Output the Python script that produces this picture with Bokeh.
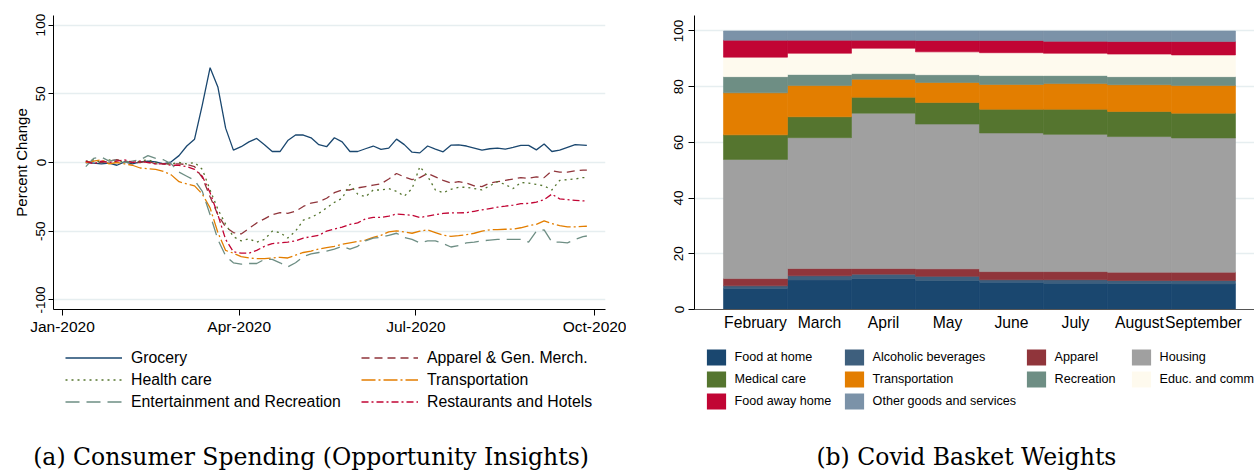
import pandas as pd
from bokeh.plotting import figure
from bokeh.models import (Range1d, FixedTicker, DatetimeTickFormatter, Legend, LegendItem,
                          Label, ColumnDataSource)
from bokeh.layouts import row, column
from bokeh.embed import file_html
from bokeh.resources import INLINE

# ---------------- data: consumer spending (percent change) ----------------
dates = pd.date_range("2020-01-13", periods=65, freq="4D").append(pd.DatetimeIndex(["2020-09-27"]))

grocery = [0, -0.5, -1, -0.5, -2, 0.5, -1, 0.5, 1, 0.5,
           -1, 0.5, 5, 12, 17, 42, 69, 55, 25, 9,
           11.5, 15, 17.5, 13, 8, 8, 16, 20, 20, 18,
           13, 11.5, 18, 15, 8, 8, 10, 12, 9.5, 10.5,
           17, 13, 7.5, 7, 12, 9.7, 7.8, 12.6, 12.9, 12,
           10.5, 9, 10, 10.5, 9.7, 11, 12.5, 12.5, 9.2, 13.4,
           8, 9, 11, 13, 12.6, 12.4]
health = [1, 2, 0, 2, 0, 1, 0, 1, 2, 0,
          -1, -1, 0, -1, 0, -5, -20, -34, -45, -54,
          -57, -55.5, -58, -56, -50, -51, -55, -50, -42, -40,
          -37, -33, -29, -26, -16, -23, -25, -20, -20, -19,
          -21, -24.5, -19, -3, -10, -20, -22, -19.5, -18, -18,
          -19, -20, -17, -14, -16, -19, -14.5, -15, -16, -17,
          -20, -13, -12.5, -12, -11, -11]
apparel = [0, 1, 0, 1, 2, 1, 0, 0, 1, -1,
           -1, -1, -1, -1.5, -3, -11, -25, -38, -47, -51,
           -52, -48, -44, -41, -38, -36.5, -37, -35.5, -32, -29.5,
           -28.5, -26, -22, -20, -20, -18.5, -17.5, -16.5, -15.5, -12,
           -8, -10.5, -12.5, -11, -8, -10.5, -13, -15, -14, -15,
           -17, -17.5, -15, -14, -13, -12, -11, -11.5, -10.5, -11,
           -6, -7, -7, -6, -5.5, -5.5]
transport = [0, 1, 2, -1, 0, -1, -2, -4, -4.5, -5,
             -6.5, -9, -14, -15.5, -17, -23, -33, -51, -64, -66,
             -68.5, -69.5, -70, -70, -69.5, -69, -69.5, -67.5, -65.5, -64.5,
             -63, -62, -61, -59.5, -58.5, -57.5, -56.5, -54.5, -53, -50.5,
             -49.8, -50.5, -51.5, -50, -49, -51, -53, -53.7, -53.3, -52.5,
             -51.5, -50, -49, -48.8, -48.6, -48.5, -47.5, -46, -45, -42.5,
             -44.5, -46, -46.8, -46.8, -46.5, -46.4]
entertainment = [-3, 3, 4, 1, 2, 0, 1, 2, 5, 3,
                 2, -1, -7, -10, -13, -21, -38, -56, -68, -73,
                 -74, -73.5, -73.5, -70.5, -70.5, -73, -76, -73, -68.5, -66.5,
                 -65.5, -64.5, -63, -61, -63, -61, -57, -55, -54.5, -53,
                 -51.5, -54.5, -56, -58.5, -57, -57, -59, -61.5, -60.5, -58.5,
                 -58, -57, -56.5, -56, -56, -56, -56, -58, -50, -49,
                 -58, -58, -58.5, -56, -54, -53.5]
restaurants = [1, -1, 1, 0, 1, 2, 0, 1, 0, -1,
               -1, -2, -2, -3, -5, -10, -22, -38, -56, -65,
               -66, -66, -64, -61, -59, -58.5, -58, -57, -55, -54,
               -53, -50, -48.5, -47, -45, -44, -41, -40, -40, -39,
               -37.5, -38, -38.4, -40, -39, -38, -37, -36.7, -36.7, -36.5,
               -35.5, -34.5, -33.5, -32.5, -31.8, -31, -30, -29.8, -28.8, -27,
               -23, -26.5, -27, -27.5, -28, -28]

x_tick_dates = ["2020-01-01", "2020-04-01", "2020-07-01", "2020-10-01"]
x_tick_labels = ["Jan-2020", "Apr-2020", "Jul-2020", "Oct-2020"]
y_ticks_a = [-100, -50, 0, 50, 100]

# ---------------- data: covid basket weights ----------------
months = ["February", "March", "April", "May", "June", "July", "August", "September"]
food_home = [7.5, 10.6, 11.1, 10.4, 9.8, 9.4, 9.3, 9.2]
alcohol = [1.0, 1.5, 1.6, 1.5, 0.9, 1.3, 1.1, 1.2]
apparel_w = [2.6, 2.6, 2.0, 2.7, 2.9, 2.9, 3.0, 3.0]
housing = [42.8, 47.0, 55.8, 52.0, 49.8, 49.3, 48.7, 48.2]
medical = [8.8, 7.5, 5.7, 7.7, 8.5, 9.0, 9.0, 8.9]
transport_w = [15.1, 11.2, 6.5, 7.2, 8.9, 9.2, 9.6, 9.9]
recreation = [5.8, 4.0, 2.0, 2.8, 3.2, 2.9, 2.9, 3.2]
educ = [7.0, 7.6, 9.1, 8.2, 8.2, 8.0, 8.1, 7.8]
food_away = [6.1, 4.7, 2.9, 4.1, 4.4, 4.3, 4.5, 4.8]
other = [3.3, 3.3, 3.3, 3.4, 3.4, 3.7, 3.8, 3.8]
basket_names = ["Food at home", "Alcoholic beverages", "Apparel", "Housing", "Medical care",
                "Transportation", "Recreation", "Educ. and communication", "Food away home",
                "Other goods and services"]
y_ticks_b = [0, 20, 40, 60, 80, 100]

SANS = "Liberation Sans"
SERIF = "DejaVu Serif"
GRID = "#e6eef0"
TOP_H = 340
BOT_H = 131


def ms(d):
    return pd.Timestamp(d).timestamp() * 1000.0


# =================== left panel ===================
jan1 = ms("2020-01-01")
day = 86400000.0
p1 = figure(width=626, height=TOP_H, x_axis_type="datetime", output_backend="svg",
            toolbar_location=None, min_border_left=53, min_border_right=21,
            min_border_top=15, min_border_bottom=31,
            x_range=Range1d(jan1 - 4.63 * day, jan1 + 279.6 * day),
            y_range=Range1d(-107, 107))
p1.outline_line_color = None
p1.xgrid.visible = False
p1.ygrid.grid_line_color = GRID
p1.ygrid.grid_line_width = 1.3

src = ColumnDataSource(dict(date=dates, grocery=grocery, health=health, apparel=apparel,
                            transport=transport, entertainment=entertainment,
                            restaurants=restaurants))
series = [
    ("grocery", "Grocery", "#1a476f", "solid"),
    ("apparel", "Apparel & Gen. Merch.", "#90353b", "8 5"),
    ("health", "Health care", "#55752f", "2 4"),
    ("transport", "Transportation", "#e37e00", "14 3 2 3"),
    ("entertainment", "Entertainment and Recreation", "#6e8e84", "14 7"),
    ("restaurants", "Restaurants and Hotels", "#c10534", "7 3 2 3"),
]
style_of = {k: (l, c, d) for k, l, c, d in series}
for key, lab, col, dash in series:
    p1.line("date", key, source=src, line_color=col, line_width=1.3, line_dash=dash)

xa = p1.xaxis[0]
xa.ticker = FixedTicker(ticks=[ms(d) for d in x_tick_dates])
xa.formatter = DatetimeTickFormatter(days="%b-%Y", months="%b-%Y", years="%b-%Y")
xa.major_label_overrides = {ms(d): t for d, t in zip(x_tick_dates, x_tick_labels)}
xa.major_tick_out = 6
xa.major_tick_in = 0
xa.minor_tick_line_color = None
xa.axis_line_color = "black"
xa.major_tick_line_color = "black"
xa.major_label_text_font = SANS
xa.major_label_text_font_size = "15.5px"
xa.major_label_text_color = "black"
xa.major_label_standoff = 2

ya = p1.yaxis[0]
ya.ticker = FixedTicker(ticks=y_ticks_a)
ya.major_label_overrides = {v: str(v) for v in y_ticks_a}
ya.major_label_orientation = "vertical"
ya.major_tick_out = 5
ya.major_tick_in = 0
ya.minor_tick_line_color = None
ya.axis_line_color = "black"
ya.major_tick_line_color = "black"
ya.major_label_text_font = SANS
ya.major_label_text_font_size = "13.5px"
ya.major_label_text_color = "black"
ya.major_label_standoff = 3
ya.axis_label = "Percent Change"
ya.axis_label_text_font = SANS
ya.axis_label_text_font_size = "15px"
ya.axis_label_text_font_style = "normal"
ya.axis_label_text_color = "black"
ya.axis_label_standoff = 4

# =================== right panel ===================
p2 = figure(width=628, height=TOP_H, output_backend="svg", toolbar_location=None,
            min_border_left=68, min_border_right=0, min_border_top=15, min_border_bottom=27,
            x_range=Range1d(-0.953, 7.797), y_range=Range1d(0, 105.56))
p2.outline_line_color = None
p2.xgrid.visible = False
p2.ygrid.grid_line_color = GRID
p2.ygrid.grid_line_width = 1.3

keys = ["food_home", "alcohol", "apparel", "housing", "medical", "transport",
        "recreation", "educ", "food_away", "other"]
vals = [food_home, alcohol, apparel_w, housing, medical, transport_w, recreation, educ,
        food_away, other]
colors = ["#1a476f", "#3e5f7d", "#90353b", "#a0a0a0", "#55752f", "#e37e00",
          "#6e8e84", "#fefaee", "#c10534", "#7b92a8"]
bsrc = ColumnDataSource(dict(x=list(range(len(months))), **{k: v for k, v in zip(keys, vals)}))
p2.vbar_stack(keys, x="x", width=1.0, source=bsrc, fill_color=colors,
              line_color=colors, line_width=0.6)

xb = p2.xaxis[0]
xb.ticker = FixedTicker(ticks=list(range(len(months))))
xb.major_label_overrides = {i: m for i, m in enumerate(months)}
xb.major_tick_out = 0
xb.major_tick_in = 0
xb.minor_tick_line_color = None
xb.axis_line_color = "#555555"
xb.major_label_text_font = SANS
xb.major_label_text_font_size = "15.7px"
xb.major_label_text_color = "black"
xb.major_label_standoff = 4

yb = p2.yaxis[0]
yb.ticker = FixedTicker(ticks=y_ticks_b)
yb.major_label_orientation = "vertical"
yb.major_tick_out = 6
yb.major_tick_in = 0
yb.minor_tick_line_color = None
yb.axis_line_color = "black"
yb.major_tick_line_color = "black"
yb.major_label_text_font = SANS
yb.major_label_text_font_size = "13.5px"
yb.major_label_text_color = "black"
yb.major_label_standoff = 5


# =================== legend / caption strips ===================
def strip(x0, x1):
    q = figure(width=x1 - x0, height=BOT_H, output_backend="svg", toolbar_location=None,
               x_axis_location=None, y_axis_location=None,
               min_border=0, min_border_left=0, min_border_right=0,
               min_border_top=0, min_border_bottom=0,
               x_range=Range1d(x0, x1), y_range=Range1d(TOP_H + BOT_H, TOP_H))
    q.outline_line_color = None
    q.grid.visible = False
    return q


q1 = strip(0, 626)
q2 = strip(626, 1254)

# legend keys: off-view renderers carrying the chart's styles
lrend = {}
for key, lab, col, dash in series:
    lrend[key] = q1.line(x=[5000], y=[5000], line_color=col, line_width=1.3, line_dash=dash)

LEG_TOP_A = 351.5


def line_legend(keys_, vx):
    n = len(keys_)
    h = n * 17 + (n - 1) * 4
    items = [LegendItem(label=style_of[k][0], renderers=[lrend[k]]) for k in keys_]
    return Legend(items=items, location=(vx, TOP_H + BOT_H - LEG_TOP_A - h),
                  orientation="vertical",
                  border_line_color=None, background_fill_alpha=0, padding=0, margin=0,
                  spacing=4, glyph_width=57, glyph_height=17, label_height=17, label_width=0,
                  label_standoff=9, label_text_font=SANS, label_text_font_size="15.8px",
                  label_text_color="black")


q1.add_layout(line_legend(["grocery", "health", "entertainment"], 65), "center")
q1.add_layout(line_legend(["apparel", "transport", "restaurants"], 361), "center")
q1.add_layout(Label(x=32.7, y=470, text="(a) Consumer Spending (Opportunity Insights)",
                    text_font=SERIF, text_font_size="23.5px", text_color="black",
                    text_baseline="bottom", text_align="left"))

brend = [q2.vbar(x=[5000], top=[5000], bottom=[5000], width=1, fill_color=c, line_color=None)
         for c in colors]

LEG_TOP_B = 347


def bar_legend(idx, vx):
    n = len(idx)
    h = n * 20 + (n - 1) * 2
    items = [LegendItem(label=basket_names[i], renderers=[brend[i]]) for i in idx]
    return Legend(items=items, location=(vx, TOP_H + BOT_H - LEG_TOP_B - h),
                  orientation="vertical",
                  border_line_color=None, background_fill_alpha=0, padding=0, margin=0,
                  spacing=2, glyph_width=24, glyph_height=20, label_height=20, label_width=0,
                  label_standoff=7, label_text_font=SANS, label_text_font_size="12.6px",
                  label_text_color="black")


q2.add_layout(bar_legend([0, 4, 8], 77.6), "center")
q2.add_layout(bar_legend([1, 5, 9], 215.6), "center")
q2.add_layout(bar_legend([2, 6], 397.6), "center")
q2.add_layout(bar_legend([3, 7], 502.6), "center")
q2.add_layout(Label(x=815.9, y=470, text="(b) Covid Basket Weights",
                    text_font=SERIF, text_font_size="23.5px", text_color="black",
                    text_baseline="bottom", text_align="left"))

layout = column(row(p1, p2), row(q1, q2))
open("out.html", "w").write(file_html(layout, INLINE))
